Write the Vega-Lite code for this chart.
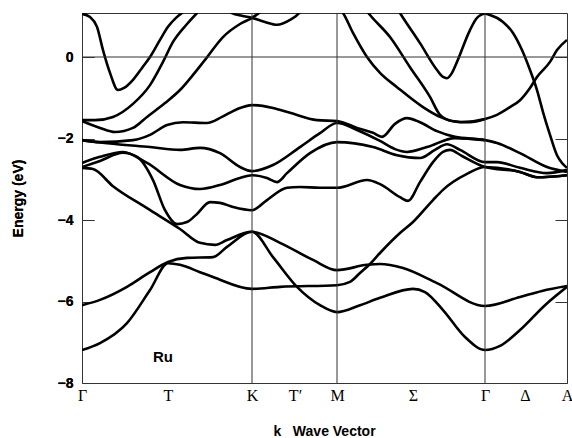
{
"$schema":"https://vega.github.io/schema/vega-lite/v6.json",
"width":485,"height":370,
"autosize":{"type":"none"},
"padding":{"left":82,"top":13,"right":5,"bottom":55},
"background":"white",
"config":{"view":{"stroke":"#333","strokeWidth":1},"font":"Liberation Sans"},
"datasets":{
"bands":[
{"b":"A","k":0,"e":1.06},{"b":"A","k":8,"e":0.98},{"b":"A","k":15,"e":0.74},{"b":"A","k":21,"e":0.17},{"b":"A","k":28,"e":-0.39},{"b":"A","k":36,"e":-0.81},{"b":"A","k":42,"e":-0.76},{"b":"A","k":51,"e":-0.56},{"b":"A","k":60,"e":-0.27},{"b":"A","k":68,"e":0},{"b":"A","k":78,"e":0.42},{"b":"A","k":86,"e":0.74},{"b":"A","k":94,"e":0.96},{"b":"A","k":101,"e":1.10},{"b":"A","k":110,"e":1.28},
{"b":"B","k":0,"e":-1.55},{"b":"B","k":13,"e":-1.55},{"b":"B","k":31,"e":-1.47},{"b":"B","k":51,"e":-1.15},{"b":"B","k":68,"e":-0.69},{"b":"B","k":81,"e":-0.12},{"b":"B","k":91,"e":0.37},{"b":"B","k":105,"e":0.81},{"b":"B","k":115,"e":1.08},{"b":"B","k":123,"e":1.28},
{"b":"C","k":0,"e":-1.57},{"b":"C","k":18,"e":-1.74},{"b":"C","k":33,"e":-1.84},{"b":"C","k":51,"e":-1.74},{"b":"C","k":65,"e":-1.47},{"b":"C","k":83,"e":-1.13},{"b":"C","k":98,"e":-0.81},{"b":"C","k":111,"e":-0.44},{"b":"C","k":123,"e":-0.07},{"b":"C","k":141,"e":0.49},{"b":"C","k":158,"e":0.81},{"b":"C","k":170,"e":0.96},{"b":"C","k":178,"e":1.10},{"b":"C","k":186,"e":1.28},
{"b":"X","k":140,"e":1.28},{"b":"X","k":150,"e":1.08},{"b":"X","k":160,"e":1.01},{"b":"X","k":170,"e":0.96},{"b":"X","k":183,"e":0.86},{"b":"X","k":195,"e":0.79},{"b":"X","k":208,"e":0.91},{"b":"X","k":218,"e":1.10},{"b":"X","k":223,"e":1.28},
{"b":"U1","k":0,"e":-2.04},{"b":"U1","k":18,"e":-2.09},{"b":"U1","k":51,"e":-2.04},{"b":"U1","k":68,"e":-1.91},{"b":"U1","k":85,"e":-1.67},{"b":"U1","k":101,"e":-1.60},{"b":"U1","k":125,"e":-1.62},{"b":"U1","k":140,"e":-1.47},{"b":"U1","k":155,"e":-1.28},{"b":"U1","k":170,"e":-1.18},{"b":"U1","k":191,"e":-1.25},{"b":"U1","k":208,"e":-1.37},{"b":"U1","k":235,"e":-1.55},{"b":"U1","k":255,"e":-1.57},{"b":"U1","k":275,"e":-1.74},{"b":"U1","k":291,"e":-1.86},{"b":"U1","k":300,"e":-1.96},{"b":"U1","k":313,"e":-1.64},{"b":"U1","k":325,"e":-1.50},{"b":"U1","k":338,"e":-1.60},{"b":"U1","k":355,"e":-1.82},{"b":"U1","k":373,"e":-1.96},{"b":"U1","k":403,"e":-2.04},{"b":"U1","k":415,"e":-2.11},{"b":"U1","k":438,"e":-2.36},{"b":"U1","k":465,"e":-2.70},{"b":"U1","k":485,"e":-2.82},
{"b":"U2","k":0,"e":-2.04},{"b":"U2","k":31,"e":-2.13},{"b":"U2","k":68,"e":-2.21},{"b":"U2","k":98,"e":-2.28},{"b":"U2","k":118,"e":-2.23},{"b":"U2","k":138,"e":-2.36},{"b":"U2","k":158,"e":-2.70},{"b":"U2","k":170,"e":-2.80},{"b":"U2","k":191,"e":-2.65},{"b":"U2","k":218,"e":-2.21},{"b":"U2","k":238,"e":-1.87},{"b":"U2","k":255,"e":-1.62},{"b":"U2","k":275,"e":-1.79},{"b":"U2","k":298,"e":-2.06},{"b":"U2","k":313,"e":-2.26},{"b":"U2","k":325,"e":-2.33},{"b":"U2","k":345,"e":-2.21},{"b":"U2","k":373,"e":-1.99},{"b":"U2","k":403,"e":-2.04},
{"b":"U3","k":0,"e":-2.60},{"b":"U3","k":18,"e":-2.45},{"b":"U3","k":41,"e":-2.33},{"b":"U3","k":65,"e":-2.60},{"b":"U3","k":98,"e":-3.14},{"b":"U3","k":118,"e":-3.24},{"b":"U3","k":138,"e":-3.14},{"b":"U3","k":158,"e":-2.97},{"b":"U3","k":170,"e":-2.90},{"b":"U3","k":185,"e":-2.97},{"b":"U3","k":195,"e":-3.07},{"b":"U3","k":205,"e":-2.85},{"b":"U3","k":228,"e":-2.36},{"b":"U3","k":255,"e":-2.09},{"b":"U3","k":291,"e":-2.21},{"b":"U3","k":315,"e":-2.41},{"b":"U3","k":338,"e":-2.48},{"b":"U3","k":353,"e":-2.28},{"b":"U3","k":365,"e":-2.14},{"b":"U3","k":378,"e":-2.28},{"b":"U3","k":403,"e":-2.58},{"b":"U3","k":415,"e":-2.58},{"b":"U3","k":438,"e":-2.72},{"b":"U3","k":465,"e":-2.85},{"b":"U3","k":485,"e":-2.77},
{"b":"U4","k":0,"e":-2.70},{"b":"U4","k":18,"e":-2.55},{"b":"U4","k":41,"e":-2.35},{"b":"U4","k":55,"e":-2.45},{"b":"U4","k":71,"e":-3.02},{"b":"U4","k":83,"e":-3.76},{"b":"U4","k":95,"e":-4.10},{"b":"U4","k":105,"e":-4.05},{"b":"U4","k":115,"e":-3.85},{"b":"U4","k":128,"e":-3.56},{"b":"U4","k":138,"e":-3.58},{"b":"U4","k":151,"e":-3.68},{"b":"U4","k":170,"e":-3.76},{"b":"U4","k":185,"e":-3.51},{"b":"U4","k":205,"e":-3.21},{"b":"U4","k":218,"e":-3.19},{"b":"U4","k":238,"e":-3.21},{"b":"U4","k":255,"e":-3.21},{"b":"U4","k":285,"e":-3.02},{"b":"U4","k":298,"e":-3.12},{"b":"U4","k":318,"e":-3.44},{"b":"U4","k":326,"e":-3.53},{"b":"U4","k":338,"e":-3.07},{"b":"U4","k":351,"e":-2.58},{"b":"U4","k":361,"e":-2.33},{"b":"U4","k":368,"e":-2.28},{"b":"U4","k":380,"e":-2.43},{"b":"U4","k":403,"e":-2.70},{"b":"U4","k":438,"e":-2.82},{"b":"U4","k":455,"e":-2.95},{"b":"U4","k":485,"e":-2.90},
{"b":"L3","k":0,"e":-2.72},{"b":"L3","k":11,"e":-2.75},{"b":"L3","k":31,"e":-3.17},{"b":"L3","k":65,"e":-3.71},{"b":"L3","k":98,"e":-4.22},{"b":"L3","k":118,"e":-4.56},{"b":"L3","k":133,"e":-4.61},{"b":"L3","k":145,"e":-4.49},{"b":"L3","k":170,"e":-4.29},{"b":"L3","k":198,"e":-4.56},{"b":"L3","k":231,"e":-4.98},{"b":"L3","k":255,"e":-5.23},{"b":"L3","k":285,"e":-5.10},{"b":"L3","k":298,"e":-5.08},{"b":"L3","k":321,"e":-5.18},{"b":"L3","k":355,"e":-5.55},{"b":"L3","k":403,"e":-6.11},{"b":"L3","k":438,"e":-5.89},{"b":"L3","k":460,"e":-5.74},{"b":"L3","k":485,"e":-5.62},
{"b":"L2","k":0,"e":-6.09},{"b":"L2","k":18,"e":-5.96},{"b":"L2","k":45,"e":-5.64},{"b":"L2","k":68,"e":-5.28},{"b":"L2","k":86,"e":-5.03},{"b":"L2","k":105,"e":-4.93},{"b":"L2","k":131,"e":-4.91},{"b":"L2","k":145,"e":-4.66},{"b":"L2","k":170,"e":-4.29},{"b":"L2","k":191,"e":-4.91},{"b":"L2","k":215,"e":-5.64},{"b":"L2","k":238,"e":-6.09},{"b":"L2","k":255,"e":-6.26},{"b":"L2","k":278,"e":-6.09},{"b":"L2","k":298,"e":-5.91},{"b":"L2","k":331,"e":-5.69},{"b":"L2","k":343,"e":-5.77},{"b":"L2","k":361,"e":-6.21},{"b":"L2","k":383,"e":-6.87},{"b":"L2","k":403,"e":-7.19},{"b":"L2","k":418,"e":-7.09},{"b":"L2","k":438,"e":-6.70},{"b":"L2","k":463,"e":-6.09},{"b":"L2","k":485,"e":-5.64},
{"b":"L1","k":0,"e":-7.19},{"b":"L1","k":18,"e":-7.02},{"b":"L1","k":45,"e":-6.53},{"b":"L1","k":68,"e":-5.72},{"b":"L1","k":86,"e":-5.06},{"b":"L1","k":98,"e":-5.10},{"b":"L1","k":118,"e":-5.28},{"b":"L1","k":131,"e":-5.40},{"b":"L1","k":170,"e":-5.69},{"b":"L1","k":198,"e":-5.64},{"b":"L1","k":255,"e":-5.60},{"b":"L1","k":268,"e":-5.52},{"b":"L1","k":278,"e":-5.30},{"b":"L1","k":288,"e":-5.08},{"b":"L1","k":298,"e":-4.81},{"b":"L1","k":318,"e":-4.32},{"b":"L1","k":331,"e":-4.05},{"b":"L1","k":351,"e":-3.51},{"b":"L1","k":361,"e":-3.26},{"b":"L1","k":385,"e":-2.87},{"b":"L1","k":403,"e":-2.70},{"b":"L1","k":438,"e":-2.82},{"b":"L1","k":455,"e":-2.95},{"b":"L1","k":485,"e":-2.90},
{"b":"Y","k":253,"e":1.28},{"b":"Y","k":261,"e":1.08},{"b":"Y","k":271,"e":0.59},{"b":"Y","k":285,"e":0},{"b":"Y","k":298,"e":-0.39},{"b":"Y","k":315,"e":-0.74},{"b":"Y","k":341,"e":-1.23},{"b":"Y","k":358,"e":-1.47},{"b":"Y","k":378,"e":-1.60},{"b":"Y","k":403,"e":-1.52},{"b":"Y","k":415,"e":-1.42},{"b":"Y","k":428,"e":-1.23},{"b":"Y","k":438,"e":-1.06},{"b":"Y","k":448,"e":-0.76},{"b":"Y","k":455,"e":-0.49},{"b":"Y","k":468,"e":-0.12},{"b":"Y","k":475,"e":0.17},{"b":"Y","k":485,"e":0.42},
{"b":"Z","k":280,"e":1.28},{"b":"Z","k":288,"e":1.03},{"b":"Z","k":308,"e":0.49},{"b":"Z","k":328,"e":-0.25},{"b":"Z","k":348,"e":-0.98},{"b":"Z","k":358,"e":-1.42},{"b":"Z","k":370,"e":-1.57},{"b":"Z","k":388,"e":-1.60},{"b":"Z","k":403,"e":-1.52},
{"b":"D2","k":313,"e":1.28},{"b":"D2","k":318,"e":1.08},{"b":"D2","k":338,"e":0.34},{"b":"D2","k":355,"e":-0.32},{"b":"D2","k":361,"e":-0.49},{"b":"D2","k":365,"e":-0.52},{"b":"D2","k":370,"e":-0.39},{"b":"D2","k":375,"e":-0.12},{"b":"D2","k":388,"e":0.66},{"b":"D2","k":395,"e":0.96},{"b":"D2","k":403,"e":1.06},{"b":"D2","k":408,"e":1.03},{"b":"D2","k":421,"e":0.86},{"b":"D2","k":431,"e":0.59},{"b":"D2","k":440,"e":0.17},{"b":"D2","k":448,"e":-0.32},{"b":"D2","k":455,"e":-0.81},{"b":"D2","k":461,"e":-1.35},{"b":"D2","k":468,"e":-1.91},{"b":"D2","k":475,"e":-2.41},{"b":"D2","k":480,"e":-2.60},{"b":"D2","k":485,"e":-2.72}
],
"vlines":[{"k":170},{"k":255},{"k":403}],
"hlines":[{"e":0}],
"notes":[{"k":81,"e":-7.36,"t":"Ru"}]
},
"layer":[
{"data":{"name":"bands"},"mark":{"type":"line","interpolate":"monotone","color":"black","strokeWidth":2.6,"clip":true},
 "encoding":{
  "x":{"field":"k","type":"quantitative","scale":{"domain":[0,485],"nice":false,"zero":false},
   "axis":{"values":[0,86,170,213,255,331,403,443,485],
    "labelExpr":"datum.value==0?'Γ':datum.value==86?'T':datum.value==170?'K':datum.value==213?'T′':datum.value==255?'M':datum.value==331?'Σ':datum.value==403?'Γ':datum.value==443?'Δ':'A'",
    "ticks":false,"domain":false,"grid":false,"labelFont":"Liberation Serif","labelFontSize":16,"labelColor":"black","labelPadding":4,"labelFlush":false,"labelOverlap":false,"labelBound":false,
    "title":"k\u00a0\u00a0\u00a0Wave Vector","titleFont":"Liberation Sans","titleFontWeight":"bold","titleFontSize":14,"titleColor":"black","titleX":242,"titleY":52,"titleAlign":"center","titleBaseline":"alphabetic"}},
  "y":{"field":"e","type":"quantitative","scale":{"domain":[-8,1.08],"nice":false,"zero":false},
   "axis":{"orient":"left","values":[0,-2,-4,-6,-8],"tickSize":-12,"tickColor":"#333","tickWidth":1,"domain":false,"grid":false,
    "labelFont":"Liberation Sans","labelFontWeight":"bold","labelFontSize":14,"labelColor":"black","labelPadding":21,
    "title":"Energy (eV)","titleFont":"Liberation Sans","titleFontWeight":"bold","titleFontSize":14,"titleColor":"black","titleX":-60,"titleY":185,"titleAngle":270,"titleAlign":"center","titleBaseline":"alphabetic"}},
  "detail":{"field":"b","type":"nominal"},
  "order":{"field":"k","type":"quantitative"}}},
{"data":{"name":"vlines"},"mark":{"type":"rule","color":"#333","strokeWidth":1},
 "encoding":{"x":{"field":"k","type":"quantitative","scale":{"domain":[0,485],"nice":false,"zero":false},
   "axis":{"values":[0,86,170,213,255,331,403,443,485],
    "labelExpr":"datum.value==0?'Γ':datum.value==86?'T':datum.value==170?'K':datum.value==213?'T′':datum.value==255?'M':datum.value==331?'Σ':datum.value==403?'Γ':datum.value==443?'Δ':'A'",
    "ticks":false,"domain":false,"grid":false,"labelFont":"Liberation Serif","labelFontSize":16,"labelColor":"black","labelPadding":4,"labelFlush":false,"labelOverlap":false,"labelBound":false,
    "title":"k\u00a0\u00a0\u00a0Wave Vector","titleFont":"Liberation Sans","titleFontWeight":"bold","titleFontSize":14,"titleColor":"black","titleX":242,"titleY":52,"titleAlign":"center","titleBaseline":"alphabetic"}}}},
{"data":{"name":"hlines"},"mark":{"type":"rule","color":"#333","strokeWidth":1},
 "encoding":{"y":{"field":"e","type":"quantitative","scale":{"domain":[-8,1.08],"nice":false,"zero":false},
  "axis":{"orient":"right","values":[0,-2,-4,-6,-8],"tickSize":-12,"tickColor":"#333","tickWidth":1,"labels":false,"domain":false,"grid":false,"title":null}}}},
{"data":{"name":"notes"},"mark":{"type":"text","font":"Liberation Sans","fontWeight":"bold","fontSize":15,"color":"black"},
 "encoding":{"x":{"field":"k","type":"quantitative","scale":{"domain":[0,485],"nice":false,"zero":false},
   "axis":{"values":[0,86,170,213,255,331,403,443,485],
    "labelExpr":"datum.value==0?'Γ':datum.value==86?'T':datum.value==170?'K':datum.value==213?'T′':datum.value==255?'M':datum.value==331?'Σ':datum.value==403?'Γ':datum.value==443?'Δ':'A'",
    "ticks":false,"domain":false,"grid":false,"labelFont":"Liberation Serif","labelFontSize":16,"labelColor":"black","labelPadding":4,"labelFlush":false,"labelOverlap":false,"labelBound":false,
    "title":"k\u00a0\u00a0\u00a0Wave Vector","titleFont":"Liberation Sans","titleFontWeight":"bold","titleFontSize":14,"titleColor":"black","titleX":242,"titleY":52,"titleAlign":"center","titleBaseline":"alphabetic"}},
  "y":{"field":"e","type":"quantitative","scale":{"domain":[-8,1.08],"nice":false,"zero":false},
   "axis":{"orient":"left","values":[0,-2,-4,-6,-8],"tickSize":-12,"tickColor":"#333","tickWidth":1,"domain":false,"grid":false,
    "labelFont":"Liberation Sans","labelFontWeight":"bold","labelFontSize":14,"labelColor":"black","labelPadding":21,
    "title":"Energy (eV)","titleFont":"Liberation Sans","titleFontWeight":"bold","titleFontSize":14,"titleColor":"black","titleX":-60,"titleY":185,"titleAngle":270,"titleAlign":"center","titleBaseline":"alphabetic"}},
  "text":{"field":"t"}}}
]
}
